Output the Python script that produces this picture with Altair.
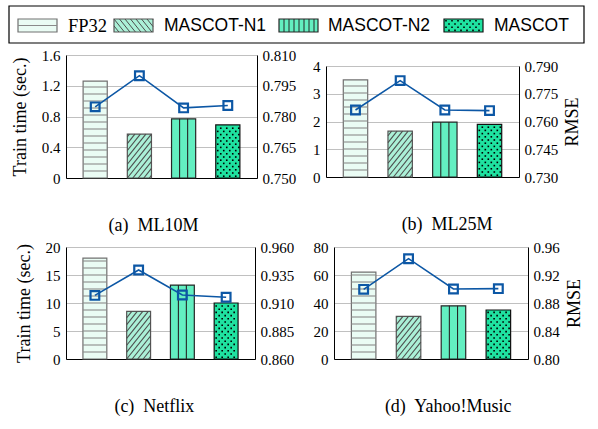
import math
import altair as alt
import pandas as pd

# ---------------- data ----------------
methods = ["FP32", "MASCOT-N1", "MASCOT-N2", "MASCOT"]
captions = ["(a)\u00a0 ML10M", "(b)\u00a0 ML25M", "(c)\u00a0 Netflix", "(d)\u00a0 Yahoo!Music"]

time_ml10m = [1.26, 0.57, 0.77, 0.69]
rmse_ml10m = [0.7847, 0.7999, 0.7842, 0.7854]
time_ml25m = [3.50, 1.65, 1.98, 1.90]
rmse_ml25m = [0.7662, 0.7821, 0.7662, 0.7659]
time_netflix = [18.0, 8.5, 13.2, 10.0]
rmse_netflix = [0.9168, 0.9395, 0.9171, 0.9151]
time_yahoo = [62.0, 30.5, 38.0, 35.0]
rmse_yahoo = [0.8995, 0.9433, 0.9000, 0.9005]

ticks_time_ml10m = [0, 0.4, 0.8, 1.2, 1.6]
ticks_rmse_ml10m = [0.750, 0.765, 0.780, 0.795, 0.810]
ticks_time_ml25m = [0, 1, 2, 3, 4]
ticks_rmse_ml25m = [0.730, 0.745, 0.760, 0.775, 0.790]
ticks_time_netflix = [0, 5, 10, 15, 20]
ticks_rmse_netflix = [0.860, 0.885, 0.910, 0.935, 0.960]
ticks_time_yahoo = [0, 20, 40, 60, 80]
ticks_rmse_yahoo = [0.80, 0.84, 0.88, 0.92, 0.96]

# ---------------- style ----------------
FILLS = ["#eafcf4", "#abf0d7", "#63efc1", "#1fe2a0"]
STROKES = ["#707070", "#555555", "#262626", "#111111"]
HATCH = ["#8a8a8a", "#4d4d4d", "#262626", "#000000"]
LINE = "#0c57a5"
SERIF = "Liberation Serif"
SERIF_LIST = "Liberation Serif, Times New Roman, serif"
SANS = "Liberation Sans"
XDOM = (-0.66, 3.66)
HALF = 0.273


def pattern(kind, x0, x1, y0, y1, vstep=None):
    """hatch lines / dots inside a pixel rectangle (y grows upward)"""
    segs, dots = [], []
    W, H = x1 - x0, y1 - y0
    if kind == 0:
        y = y0 + 7
        while y < y1 - 2:
            segs.append((x0, y, x1, y))
            y += 7
    elif kind == 1:
        sp, t = 5.5, 1.25
        c = -math.ceil(H / t / sp) * sp
        while c < W:
            u0, u1 = max(0.0, c), min(W, c + H / t)
            if u1 > u0:
                segs.append((x0 + u0, y0 + (u0 - c) * t, x0 + u1, y0 + (u1 - c) * t))
            c += sp
    elif kind == 2:
        step = vstep if vstep else W / 3.0
        x = x0 + step
        while x < x1 - 1:
            segs.append((x, y0, x, y1))
            x += step
    elif kind == 3:
        r = 0
        y = y0 + 1.8
        while y < y1 - 1:
            x = x0 + (2.0 if r % 2 == 0 else 5.0)
            while x < x1 - 1:
                dots.append((x, y))
                x += 6.0
            y += 3.2
            r += 1
    return segs, dots


def panel(caption, times, rmses, tticks, rticks, w, h, ltitle, rtitle, tfmt, rfmt, spacer=0):
    t0, t1 = tticks[0], tticks[-1]
    span = XDOM[1] - XDOM[0]
    xs = alt.Scale(domain=list(XDOM), nice=False, zero=False)
    ys = alt.Scale(domain=[t0, t1], nice=False, zero=False)
    rs = alt.Scale(domain=[rticks[0], rticks[-1]], nice=False, zero=False)
    xaxis = alt.Axis(labels=False, ticks=False, grid=False, domain=True,
                     domainColor="black", domainWidth=1, title=None)
    yaxis = alt.Axis(orient="left", values=tticks,
                     labelExpr=f"datum.value == 0 ? '0' : format(datum.value, '{tfmt}')",
                     grid=True, gridColor="#c0c0c0", gridWidth=1, domain=True,
                     domainColor="black", domainWidth=1, ticks=False, labelPadding=6,
                     labelFont=SERIF_LIST, labelFontSize=15, labelColor="black",
                     title=ltitle if ltitle else None, titleFont=SERIF, titleFontSize=18,
                     titleFontWeight="normal", titleColor="black", titlePadding=12)
    raxis = alt.Axis(orient="right", values=rticks,
                     labelExpr=f"format(datum.value, '{rfmt}')",
                     grid=False, domain=True, domainColor="black", domainWidth=1,
                     ticks=False, labelPadding=5, labelFont=SERIF_LIST, labelFontSize=15,
                     labelColor="black",
                     title=rtitle if rtitle else None, titleFont=SERIF, titleFontSize=18,
                     titleFontWeight="normal", titleColor="black", titlePadding=6,
                     titleAngle=270, titleBaseline="top")

    bars = pd.DataFrame({"m": methods, "v": times,
                         "x0": [i - HALF for i in range(4)],
                         "x1": [i + HALF for i in range(4)],
                         "b": [0.0] * 4})
    seg_rows, dot_rows = [], []
    for i, v in enumerate(times):
        px0 = (i - HALF - XDOM[0]) / span * w
        px1 = (i + HALF - XDOM[0]) / span * w
        py1 = (v - t0) / (t1 - t0) * h
        segs, dots = pattern(i, px0, px1, 0.0, py1)
        for (a, b, c, d) in segs:
            seg_rows.append({"x": XDOM[0] + a / w * span, "y": t0 + b / h * (t1 - t0),
                             "x2": XDOM[0] + c / w * span, "y2": t0 + d / h * (t1 - t0),
                             "c": HATCH[i]})
        for (a, b) in dots:
            dot_rows.append({"x": XDOM[0] + a / w * span, "y": t0 + b / h * (t1 - t0)})
    segdf = pd.DataFrame(seg_rows)
    dotdf = pd.DataFrame(dot_rows)
    linedf = pd.DataFrame({"i": list(range(4)), "r": rmses})

    bar_layer = alt.Chart(bars).mark_bar(strokeWidth=1.2).encode(
        x=alt.X("x0:Q", scale=xs, axis=xaxis), x2="x1:Q",
        y=alt.Y("v:Q", scale=ys, axis=yaxis), y2="b:Q",
        fill=alt.Fill("m:N", scale=alt.Scale(domain=methods, range=FILLS), legend=None),
        stroke=alt.Stroke("m:N", scale=alt.Scale(domain=methods, range=STROKES), legend=None),
    )
    seg_layer = alt.Chart(segdf).mark_rule(strokeWidth=1.1).encode(
        x=alt.X("x:Q", scale=xs, axis=xaxis), x2="x2:Q",
        y=alt.Y("y:Q", scale=ys, axis=yaxis), y2="y2:Q",
        color=alt.Color("c:N", scale=None),
    )
    dot_layer = alt.Chart(dotdf).mark_square(size=2.6, color="black", opacity=1).encode(
        x=alt.X("x:Q", scale=xs, axis=xaxis),
        y=alt.Y("y:Q", scale=ys, axis=yaxis),
    )
    left = alt.layer(bar_layer, seg_layer, dot_layer)
    line = alt.Chart(linedf).mark_line(color=LINE, strokeWidth=1.6).encode(
        x=alt.X("i:Q", scale=xs, axis=xaxis),
        y=alt.Y("r:Q", scale=rs, axis=raxis),
    )
    pts = alt.Chart(linedf).mark_point(shape="square", filled=False, size=76,
                                       strokeWidth=2.2, color=LINE, opacity=1).encode(
        x=alt.X("i:Q", scale=xs, axis=xaxis),
        y=alt.Y("r:Q", scale=rs, axis=raxis),
    )
    right = alt.layer(line, pts)
    inner = alt.layer(left, right).resolve_scale(y="independent").properties(width=w, height=h)
    parts = [inner]
    if spacer:
        gap = alt.Chart(pd.DataFrame({"s": [0]})).mark_point(opacity=0).encode(
            x=alt.value(0), y=alt.value(0)).properties(width=w, height=spacer)
        parts = [gap, inner]
    return alt.vconcat(*parts, spacing=0).properties(
        title=alt.TitleParams(caption, orient="bottom", anchor="middle", frame="bounds",
                              font=SERIF, fontSize=18, fontWeight="normal",
                              color="black", offset=31))


pa = panel(captions[0], time_ml10m, rmse_ml10m, ticks_time_ml10m, ticks_rmse_ml10m,
           191, 123, "Train time (sec.)", "", ".1f", ".3f")
pb = panel(captions[1], time_ml25m, rmse_ml25m, ticks_time_ml25m, ticks_rmse_ml25m,
           193, 111, "", "RMSE", ".0f", ".3f", spacer=4)
pc = panel(captions[2], time_netflix, rmse_netflix, ticks_time_netflix, ticks_rmse_netflix,
           189, 112, "Train time (sec.)", "", ".0f", ".3f")
pd_ = panel(captions[3], time_yahoo, rmse_yahoo, ticks_time_yahoo, ticks_rmse_yahoo,
            194, 112, "", "RMSE", ".0f", ".2f")

# ---------------- legend (drawn relative to the first panel's plot origin) ----------------
LW, LH = 518, 37
box_left = -57
sw_left = [-48, 48, 213, 378]
txt_left = [2, 98, 262, 428]
sw_w, sw_y0, sw_y1 = 39, 13, 26
leg_box = pd.DataFrame({"x0": [box_left], "x1": [LW], "y0": [0], "y1": [LH]})
leg_rects = pd.DataFrame({"m": methods, "x0": sw_left,
                          "x1": [s + sw_w for s in sw_left],
                          "y0": [sw_y0] * 4, "y1": [sw_y1] * 4})
lsegs, ldots = [], []
for i in range(4):
    s, d = pattern(i, sw_left[i], sw_left[i] + sw_w, sw_y0, sw_y1,
                   vstep=5.0 if i == 2 else None)
    if i == 0:
        s = [(sw_left[i], (sw_y0 + sw_y1) / 2, sw_left[i] + sw_w, (sw_y0 + sw_y1) / 2)]
    for (a, b, c, e) in s:
        lsegs.append({"x": a, "y": b, "x2": c, "y2": e, "c": HATCH[i]})
    for (a, b) in d:
        ldots.append({"x": a, "y": b})
leg_txt = pd.DataFrame({"m": methods, "x": txt_left, "y": [19.5] * 4})
lxs = alt.Scale(domain=[0, LW], nice=False, zero=False)
lys = alt.Scale(domain=[0, LH], nice=False, zero=False, reverse=True)
l_box = alt.Chart(leg_box).mark_rect(fill="white", stroke="black", strokeWidth=1.2).encode(
    x=alt.X("x0:Q", scale=lxs, axis=None), x2="x1:Q",
    y=alt.Y("y0:Q", scale=lys, axis=None), y2="y1:Q")
l_rect = alt.Chart(leg_rects).mark_rect(strokeWidth=1.2).encode(
    x=alt.X("x0:Q", scale=lxs, axis=None), x2="x1:Q",
    y=alt.Y("y0:Q", scale=lys, axis=None), y2="y1:Q",
    fill=alt.Fill("m:N", scale=alt.Scale(domain=methods, range=FILLS), legend=None),
    stroke=alt.Stroke("m:N", scale=alt.Scale(domain=methods, range=STROKES), legend=None),
)
l_seg = alt.Chart(pd.DataFrame(lsegs)).mark_rule(strokeWidth=1).encode(
    x=alt.X("x:Q", scale=lxs, axis=None), x2="x2:Q",
    y=alt.Y("y:Q", scale=lys, axis=None), y2="y2:Q",
    color=alt.Color("c:N", scale=None),
)
l_dot = alt.Chart(pd.DataFrame(ldots)).mark_square(size=2.6, color="black", opacity=1).encode(
    x=alt.X("x:Q", scale=lxs, axis=None), y=alt.Y("y:Q", scale=lys, axis=None))
l_txt_serif = alt.Chart(leg_txt).transform_filter(
    alt.datum.m == "FP32").mark_text(
    align="left", baseline="middle", font=SERIF_LIST, fontSize=18.5, color="black").encode(
    x=alt.X("x:Q", scale=lxs, axis=None), y=alt.Y("y:Q", scale=lys, axis=None), text="m:N")
l_txt_sans = alt.Chart(leg_txt).transform_filter(
    alt.datum.m != "FP32").mark_text(
    align="left", baseline="middle", font=SANS, fontSize=17.5, color="black").encode(
    x=alt.X("x:Q", scale=lxs, axis=None), y=alt.Y("y:Q", scale=lys, axis=None), text="m:N")
legend = alt.layer(l_box, l_rect, l_seg, l_dot, l_txt_serif, l_txt_sans).properties(
    width=LW, height=LH)

row1 = alt.concat(pa, pb, columns=2, spacing=16)
row2 = alt.concat(pc, pd_, columns=2, spacing=19)
rows = alt.concat(row1, row2, columns=1, spacing=5)
chart = alt.concat(legend, rows, columns=1, spacing=4).properties(
    padding={"left": 8, "top": 5, "right": 4, "bottom": 4},
    background="white",
).configure_view(stroke=None)

chart.save("out.html", embed_options={"renderer": "svg", "actions": False})
